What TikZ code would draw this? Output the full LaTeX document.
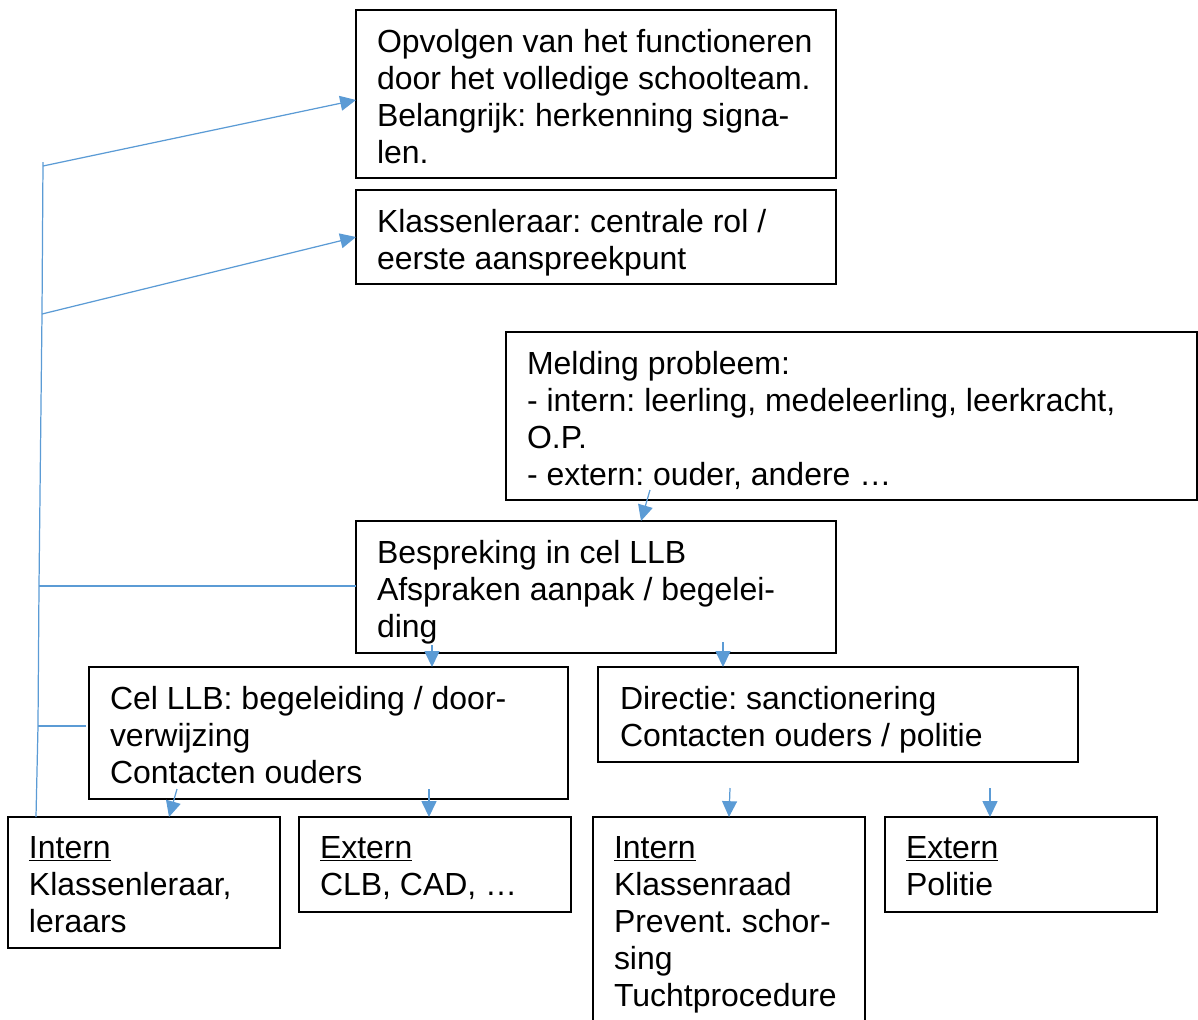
\documentclass[tikz,border=0pt]{standalone}
\usepackage{fontspec}
\setmainfont{Liberation Sans}
\usetikzlibrary{arrows.meta,calc}
\definecolor{lnblue}{HTML}{5B9BD5}
\frenchspacing
\begin{document}
\begin{tikzpicture}[x=0.02cm,y=-0.02cm,
  box/.style n args={2}{draw=black,line width=1pt,rectangle,inner sep=0pt,outer sep=0pt,
    minimum width=#1*0.02 cm,minimum height=#2*0.02 cm,anchor=north west},
  txt/.style={inner sep=0pt,outer sep=0pt,anchor=north west,align=left,
    font=\fontsize{18.2pt}{21.06pt}\selectfont\frenchspacing},
  conn/.style={draw=lnblue,line width=0.7pt},
  arr/.style={conn,-{Triangle[length=9pt,width=8.5pt]}}]
\useasboundingbox (0,0) rectangle (1198,1019);
% boxes
\node[box={480}{168}] (b1) at (356,10) {};
\node[box={480}{94}] (b2) at (356,190) {};
\node[box={691}{168}] (b3) at (506,332) {};
\node[box={480}{132}] (b4) at (356,521) {};
\node[box={479}{132}] (b5) at (89,667) {};
\node[box={480}{95}] (b6) at (598,667) {};
\node[box={272}{131}] (b7) at (8,817) {};
\node[box={272}{95}] (b8) at (299,817) {};
\node[box={272}{240}] (b9) at (593,817) {};
\node[box={272}{95}] (b10) at (885,817) {};
% texts
\node[txt] (t1) at ($(b1.north west)+(21,19)$) {Opvolgen van het functioneren\\door het volledige schoolteam.\\Belangrijk: herkenning signa-\\len.};
\node[txt] (t2) at ($(b2.north west)+(21,19)$) {Klassenleraar: centrale rol /\\eerste aanspreekpunt};
\node[txt] (t3) at ($(b3.north west)+(21,19)$) {Melding probleem:\\- intern: leerling, medeleerling, leerkracht,\\O.P.\\- extern: ouder, andere \dots};
\node[txt] (t4) at ($(b4.north west)+(21,19)$) {Bespreking in cel LLB\\Afspraken aanpak / begelei-\\ding};
\node[txt] (t5) at ($(b5.north west)+(21,19)$) {Cel LLB: begeleiding / door-\\verwijzing\\Contacten ouders};
\node[txt] (t6) at ($(b6.north west)+(22,19)$) {Directie: sanctionering\\Contacten ouders / politie};
\node[txt] (t7) at ($(b7.north west)+(21,19)$) {\underline{Intern}\\Klassenleraar,\\leraars};
\node[txt] (t8) at ($(b8.north west)+(21,19)$) {\underline{Extern}\\CLB, CAD, \dots};
\node[txt] (t9) at ($(b9.north west)+(21,19)$) {\underline{Intern}\\Klassenraad\\Prevent. schor-\\sing\\Tuchtprocedure};
\node[txt] (t10) at ($(b10.north west)+(21,19)$) {\underline{Extern}\\Politie};
% left spine
\coordinate (sbot) at ($(b7.north west)+(28,0)$);
\coordinate (s4) at (38,726);
\coordinate (s3) at (39,586);
\coordinate (s2) at (42,314);
\coordinate (s1) at (43,166);
\coordinate (stop) at (43,162);
\draw[conn] (sbot) -- (s4) -- (s3) -- (s2) -- (stop);
\draw[arr] (s1) -- ($(b1.north west)+(0,90)$);
\draw[arr] (s2) -- (b2.west);
\draw[conn] (s3) -- (b4.west |- s3);
\draw[conn] (s4) -- ($(b5.west |- s4)+(-3,0)$);
% down arrows
\coordinate (a3) at (650,490);
\draw[arr] (a3) -- ($(b4.north west)+(285,0)$);
\coordinate (a4l) at (432,645);
\draw[arr] (a4l) -- ($(b5.north west)+(343,0)$);
\coordinate (a4r) at (723,642);
\draw[arr] (a4r) -- ($(b6.north west)+(125,0)$);
\coordinate (a5l) at (177,789);
\draw[arr] (a5l) -- ($(b7.north west)+(161,0)$);
\coordinate (a5r) at (429,789);
\draw[arr] (a5r) -- ($(b8.north west)+(130,0)$);
\coordinate (a6l) at (730,788);
\draw[arr] (a6l) -- ($(b9.north west)+(136,0)$);
\coordinate (a6r) at (990,788);
\draw[arr] (a6r) -- ($(b10.north west)+(105,0)$);
\end{tikzpicture}
\end{document}
